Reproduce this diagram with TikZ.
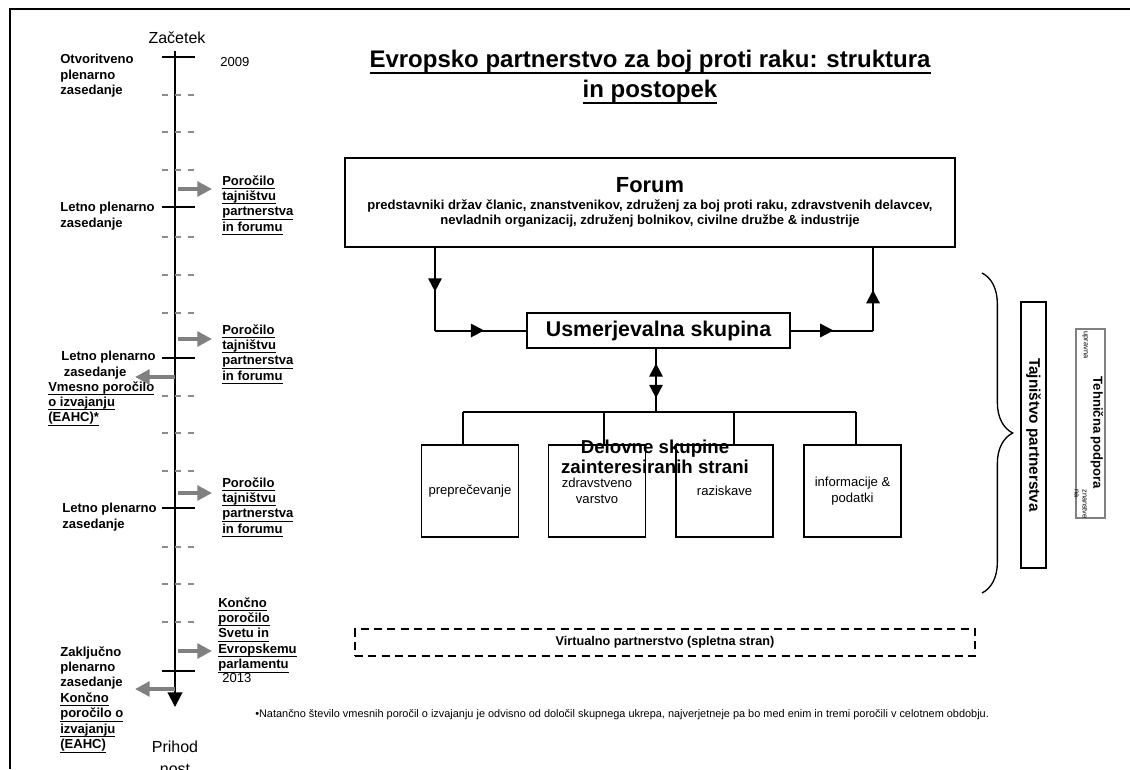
\documentclass[tikz,border=0pt]{standalone}
\usepackage{fontspec}
\setmainfont{Liberation Sans}
\usetikzlibrary{arrows.meta,decorations.markings,decorations.pathreplacing}

% podcrtano z enako globino
\newcommand{\ulin}[1]{\setbox0\hbox{#1}\rlap{\rule[-0.3em]{\wd0}{0.08em}}\box0}

\tikzset{
  lbl/.style={font=\fontsize{9.8}{11.6}\selectfont\bfseries, align=left, inner sep=0pt, anchor=north west},
  yr/.style={font=\fontsize{9.8}{11.6}\selectfont, inner sep=0pt, anchor=west},
  big/.style={font=\fontsize{12}{16.5}\selectfont, align=center, inner sep=0pt},
  box/.style={draw, line width=1.2pt, inner sep=0pt, align=center},
  wgbox/.style={box, minimum width=72.75pt, minimum height=69pt, font=\fontsize{9.8}{11.6}\selectfont},
  link/.style={line width=1.5pt},
  midarrow/.style={postaction={decorate}, decoration={markings,
      mark=at position #1 with {\arrow{Triangle[length=10pt,width=10pt]}}}},
  greyarrow/.style={draw=gray, line width=3.5pt, -{Triangle[length=11pt,width=11pt]}},
  solidtick/.style={line width=1.5pt},
  dashtick/.style={draw=black!45, line width=1.5pt, dash pattern=on 4.5pt off 5.25pt},
}

\begin{document}
\begin{tikzpicture}[x=0.75pt, y=-0.75pt]
  \useasboundingbox (0,0) rectangle (1130,769);

  % okvir
  \draw[line width=1.5pt] (10,769) -- (10,9) -- (1130,9);

  % naslov
  \node[font=\fontsize{18}{22.5}\selectfont\bfseries, align=center, inner sep=0pt] (title) at (650,77)
    {\ulin{Evropsko partnerstvo za boj proti raku: struktura}\\\ulin{in postopek}};

  % casovnica
  \coordinate (tstart) at (175,51);
  \coordinate (tend) at (175,707);
  \node[big] (zacetek) at (177,38) {Začetek};
  \node[big] (prihodnost) at (175,758) {Prihod\\nost};
  \draw[line width=1.5pt, -{Triangle[length=11pt,width=11pt]}] (tstart) -- (tend);
  \foreach \ty in {57,207,358,508,671}
    \draw[solidtick] (162,\ty) -- (195,\ty);
  \foreach \ty in {95,132,170,237,275,313,396,433,471,547,584,622}
    \draw[dashtick] (162,\ty) -- (195,\ty);

  % zasedanja
  \node[lbl] (otv) at (60,54) {Otvoritveno\\plenarno\\zasedanje};
  \node[lbl] (let1) at (60,202) {Letno plenarno\\zasedanje};
  \node[lbl] (let2) at (61,351) {Letno plenarno\\\hspace{2pt}zasedanje};
  \node[lbl] (vmes) at (48,381) {\ulin{Vmesno poročilo}\\\ulin{o izvajanju}\\\ulin{(EAHC)*}};
  \node[lbl] (let3) at (62,503) {Letno plenarno\\zasedanje};
  \node[lbl] (zakl) at (60,646) {Zaključno\\plenarno\\zasedanje\\\ulin{Končno}\\\ulin{poročilo o}\\\ulin{izvajanju}\\\ulin{(EAHC)}};

  % porocila
  \node[yr] (y2009) at (220,62) {2009};
  \node[lbl] (rep1) at (222,175) {\ulin{Poročilo}\\\ulin{tajništvu}\\\ulin{partnerstva}\\\ulin{in forumu}};
  \node[lbl] (rep2) at (222,324) {\ulin{Poročilo}\\\ulin{tajništvu}\\\ulin{partnerstva}\\\ulin{in forumu}};
  \node[lbl] (rep3) at (222,477) {\ulin{Poročilo}\\\ulin{tajništvu}\\\ulin{partnerstva}\\\ulin{in forumu}};
  \node[lbl] (final) at (218,597) {\ulin{Končno}\\\ulin{poročilo}\\\ulin{Svetu in}\\\ulin{Evropskemu}\\\ulin{parlamentu}};
  \node[yr] (y2013) at (222,678) {2013};

  % sive puscice
  \coordinate (r1) at (178,189);
  \coordinate (r2) at (178,339);
  \coordinate (r3) at (178,493);
  \coordinate (r4) at (178,651);
  \draw[greyarrow, shorten >=7.5pt] (r1) -- (r1 -| rep1.west);
  \draw[greyarrow, shorten >=7.5pt] (r2) -- (r2 -| rep2.west);
  \draw[greyarrow, shorten >=7.5pt] (r3) -- (r3 -| rep3.west);
  \draw[greyarrow, shorten >=4.5pt] (r4) -- (r4 -| final.west);
  \coordinate (l1) at (175,377);
  \coordinate (l1e) at (135,377);
  \coordinate (l2) at (175,689);
  \coordinate (l2e) at (135,689);
  \draw[greyarrow] (l1) -- (l1e);
  \draw[greyarrow] (l2) -- (l2e);

  % struktura
  \node[box, minimum width=457.5pt, minimum height=66.75pt, font=\fontsize{9.8}{11.6}\selectfont\bfseries] (forum) at (650,202.5)
    {{\fontsize{16.4}{18}\selectfont Forum}\\[1pt]
     predstavniki držav članic, znanstvenikov, združenj za boj proti raku, zdravstvenih delavcev,\\
     nevladnih organizacij, združenj bolnikov, civilne družbe \& industrije};
  \node[box, minimum width=197.25pt, minimum height=26.25pt, font=\fontsize{16}{18}\selectfont\bfseries] (steer) at (658.5,330.5)
    {Usmerjevalna skupina};

  \node[wgbox] (wg1) at (470,491) {preprečevanje};
  \node[wgbox] (wg2) at (597,491) {zdravstveno\\varstvo};
  \node[wgbox] (wg3) at (724.5,491) {raziskave};
  \node[wgbox] (wg4) at (852.5,491) {informacije \&\\podatki};
  \node[font=\fontsize{14}{15}\selectfont\bfseries, align=center, inner sep=0pt] (wgtitle) at (655,457)
    {Delovne skupine\\zainteresiranih strani};

  % povezave
  \coordinate (fl) at (435,330.5);
  \coordinate (fr) at (873,330.5);
  \draw[link, midarrow=0.53] (forum.south -| fl) -- (fl);
  \draw[link, midarrow=0.54] (fl) -- (steer.west);
  \draw[link, midarrow=0.52] (steer.east) -- (fr);
  \draw[link, midarrow=0.49] (fr) -- (forum.south -| fr);

  \coordinate (b1) at (463,412);
  \coordinate (b2) at (604,412);
  \coordinate (b3) at (734,412);
  \coordinate (b4) at (856,412);
  \coordinate (bus) at (656,412);
  \draw[link, postaction={decorate}, decoration={markings,
      mark=at position 0.23 with {\arrowreversed{Triangle[length=10pt,width=10pt]}},
      mark=at position 0.78 with {\arrow{Triangle[length=10pt,width=10pt]}}}]
    (steer.south -| bus) -- (bus);
  \draw[link] (b1) -- (b4);
  \draw[link] (b1) -- (b1 |- wg1.north);
  \draw[link] (b2) -- (b2 |- wg2.north);
  \draw[link] (b3) -- (b3 |- wg3.north);
  \draw[link] (b4) -- (b4 |- wg4.north);

  % tajnistvo
  \draw[line width=1pt, decorate, decoration={brace, amplitude=23pt}] (982,273) -- (982,593);
  \node[box, rotate=-90, minimum width=199.5pt, minimum height=18.75pt, font=\fontsize{11.5}{13}\selectfont\bfseries] (tajn) at (1033.5,435)
    {Tajništvo partnerstva};
  \node[draw=gray, line width=1.2pt, rotate=-90, minimum width=141.75pt, minimum height=21.75pt, inner sep=0pt] (tehn) at (1090.5,423.5) {};
  \node[rotate=-90, font=\fontsize{9.8}{11}\selectfont\bfseries, inner sep=0pt] (tehnlbl) at (1097,433) {Tehnična podpora};
  \node[rotate=-90, font=\fontsize{5.5}{6}\selectfont, inner sep=0pt] (upravna) at (1085,345) {upravna};
  \node[rotate=-90, font=\fontsize{5.5}{6}\selectfont, inner sep=0pt, align=left] (znan) at (1081,504) {znanstve\\na};

  % virtualno
  \node[draw, line width=1.2pt, dash pattern=on 6pt off 4pt, minimum width=465pt, minimum height=20.25pt,
        font=\fontsize{9.5}{11}\selectfont\bfseries] (virt) at (665,642.5) {Virtualno partnerstvo (spletna stran)};

  % opomba
  \node[font=\fontsize{8.2}{9}\selectfont, anchor=west, inner sep=0pt] (opomba) at (255,715)
    {\textbullet Natančno število vmesnih poročil o izvajanju je odvisno od določil skupnega ukrepa, najverjetneje pa bo med enim in tremi poročili v celotnem obdobju.};
\end{tikzpicture}
\end{document}
